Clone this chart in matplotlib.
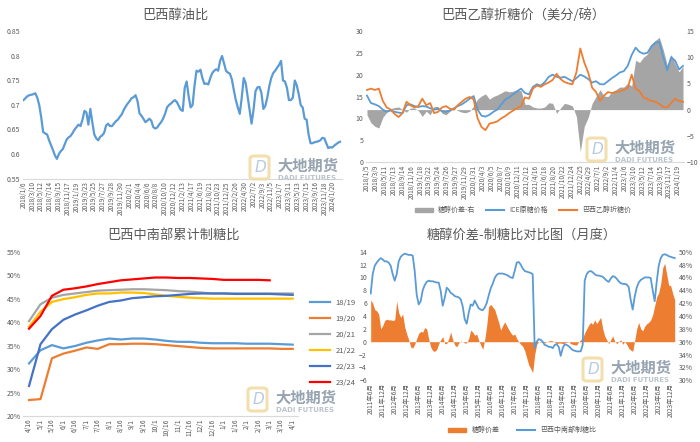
import matplotlib
matplotlib.use('Agg')
import matplotlib.pyplot as plt
from matplotlib.patches import FancyBboxPatch, Patch
from matplotlib.lines import Line2D
import numpy as np
import pandas as pd

plt.rcParams['font.family'] = ['Noto Sans CJK SC', 'DejaVu Sans']

W, H = 700, 442
TXT = '#595959'
BLUE = '#5B9BD5'
ORANGE = '#ED7D31'
GRAY = '#A5A5A5'
AXLINE = '#D9D9D9'

# ---- panel 1: 巴西醇油比 (biweekly readings from 2018/1/6)
oil_ratio = [0.710, 0.714, 0.718, 0.720, 0.721, 0.722, 0.724, 0.715, 0.700, 0.675,
             0.645, 0.642, 0.640, 0.628, 0.618, 0.608, 0.597, 0.590, 0.600, 0.606,
             0.610, 0.620, 0.630, 0.634, 0.637, 0.643, 0.650, 0.655, 0.660, 0.657,
             0.670, 0.688, 0.685, 0.660, 0.692, 0.665, 0.640, 0.632, 0.628, 0.635,
             0.638, 0.643, 0.658, 0.662, 0.657, 0.657, 0.662, 0.667, 0.670, 0.676,
             0.681, 0.690, 0.697, 0.703, 0.708, 0.714, 0.716, 0.720, 0.708, 0.683,
             0.678, 0.672, 0.665, 0.668, 0.672, 0.668, 0.655, 0.652, 0.654, 0.660,
             0.665, 0.672, 0.682, 0.695, 0.700, 0.703, 0.707, 0.710, 0.706, 0.698,
             0.690, 0.688, 0.735, 0.748, 0.718, 0.695, 0.700, 0.740, 0.770, 0.768,
             0.772, 0.755, 0.743, 0.744, 0.742, 0.755, 0.765, 0.770, 0.773, 0.770,
             0.790, 0.800, 0.785, 0.770, 0.766, 0.764, 0.752, 0.730, 0.710, 0.695,
             0.682, 0.715, 0.755, 0.745, 0.718, 0.690, 0.662, 0.690, 0.728, 0.736,
             0.737, 0.725, 0.692, 0.698, 0.715, 0.738, 0.755, 0.765, 0.770, 0.776,
             0.782, 0.790, 0.750, 0.748, 0.735, 0.710, 0.710, 0.715, 0.750, 0.740,
             0.722, 0.700, 0.695, 0.672, 0.670, 0.640, 0.622, 0.622, 0.624, 0.625,
             0.626, 0.628, 0.633, 0.632, 0.622, 0.612, 0.614, 0.613, 0.617, 0.620,
             0.623, 0.625]

# ---- panel 2: 巴西乙醇折糖价 (4-weekly readings from 2018/1/5)
ice_sugar = [15.2, 13.5, 13.2, 12.8, 12.0, 11.5, 11.8, 11.5, 11.3, 11.2,
             13.0, 13.2, 12.8, 12.6, 12.8, 12.7, 12.3, 12.0, 12.2, 11.6,
             11.5, 11.8, 12.3, 12.8, 13.2, 13.8, 14.5, 15.1, 12.0, 10.6,
             10.4, 10.8, 11.5, 12.0, 13.2, 14.3, 14.8, 15.5, 16.2, 16.8,
             15.8, 15.5, 17.2, 17.8, 17.5, 18.3, 19.5, 20.0, 19.5, 19.3,
             19.5, 19.0, 18.5, 19.2, 20.0, 19.6, 19.0, 18.2, 18.5, 17.8,
             17.8, 18.5, 19.2, 19.8, 20.5, 20.8, 22.0, 24.5, 26.2, 25.2,
             24.8, 25.0, 26.5, 27.3, 27.5, 24.0, 21.0, 24.0, 23.2, 21.2,
             22.0]
ethanol_eq = [16.5, 16.8, 16.5, 16.8, 14.0, 12.5, 12.0, 11.0, 10.3, 11.2,
              13.8, 13.0, 12.5, 12.8, 14.5, 13.0, 13.5, 11.2, 11.5, 12.5,
              12.8, 12.2, 12.0, 13.0, 13.8, 14.5, 14.9, 14.3, 10.0, 8.0,
              7.3, 8.8, 9.0, 9.3, 10.0, 10.5, 11.2, 11.8, 12.3, 12.8,
              14.8, 14.5, 16.8, 17.5, 17.2, 17.8, 18.2, 18.8, 20.2, 19.0,
              18.3, 18.0, 17.8, 20.5, 26.0, 22.8, 20.5, 17.0, 16.0, 14.0,
              15.2, 16.0, 15.8, 16.0, 16.2, 16.5, 17.0, 20.0, 16.8, 16.2,
              14.8, 14.4, 14.0, 13.8, 13.3, 12.6, 12.5, 13.5, 14.5, 14.0,
              13.8]
spread_w = [-1.0, -2.5, -3.2, -3.5, -1.5, -0.5, 0.2, 0.4, 0.5, 0.0,
            -0.5, 0.3, 0.3, -0.2, -1.3, -0.3, -1.0, 0.6, 0.6, -0.7,
            -1.0, -0.3, 0.2, -0.2, -0.5, -0.6, -0.3, 0.7, 2.0, 2.6,
            3.0, 2.0, 2.5, 2.8, 3.2, 3.6, 3.4, 3.5, 3.8, 3.6,
            1.0, 1.0, 0.5, 0.3, 0.3, 0.5, 1.3, 1.2, -0.7, 0.3,
            1.2, 1.0, 0.7, -1.3, -8.0, -3.2, -1.5, 1.2, 2.5, 3.8,
            2.6, 2.5, 3.4, 3.8, 4.3, 4.3, 5.0, 4.5, 9.4, 9.0,
            10.0, 10.6, 12.5, 13.2, 13.8, 11.4, 8.5, 10.5, 8.7, 7.2,
            8.2]

# ---- panel 3: 巴西中南部累计制糖比 (%)
half_months = ['4/16', '5/1', '5/16', '6/1', '6/16', '7/1', '7/16', '8/1', '8/16', '9/1',
               '9/16', '10/1', '10/16', '11/1', '11/16', '12/1', '12/16', '1/1', '1/16', '2/1',
               '2/16', '3/1', '3/16', '4/1']
mix_1819 = [31.2, 34.0, 35.1, 34.4, 34.9, 35.6, 36.1, 36.5, 36.3, 36.5, 36.5, 36.3,
            36.0, 35.8, 35.8, 35.6, 35.5, 35.5, 35.5, 35.4, 35.4, 35.4, 35.3, 35.2]
mix_1920 = [23.4, 23.6, 32.3, 33.3, 33.9, 34.6, 34.3, 35.3, 35.3, 35.4, 35.4, 35.3,
            35.1, 34.9, 34.7, 34.5, 34.4, 34.4, 34.4, 34.4, 34.4, 34.4, 34.3, 34.3]
mix_2021 = [40.2, 43.8, 45.2, 45.8, 46.1, 46.4, 46.7, 46.8, 46.9, 47.0, 47.0, 46.9,
            46.8, 46.6, 46.5, 46.3, 46.1, 46.1, 46.1, 46.1, 46.1, 46.1, 46.1, 46.1]
mix_2122 = [39.0, 42.2, 44.3, 44.9, 45.3, 45.8, 46.1, 46.1, 46.3, 46.3, 46.2, 45.9,
            45.6, 45.4, 45.2, 45.1, 45.0, 45.0, 45.0, 45.0, 45.0, 45.0, 45.0, 45.0]
mix_2223 = [26.4, 35.3, 38.5, 40.5, 41.6, 42.5, 43.5, 44.3, 44.6, 45.1, 45.3, 45.5,
            45.6, 45.8, 46.0, 46.1, 46.1, 46.1, 46.0, 46.0, 46.0, 46.0, 45.9, 45.8]
mix_2324 = [38.6, 41.3, 45.6, 46.9, 47.2, 47.6, 48.1, 48.5, 48.9, 49.1, 49.3, 49.5,
            49.5, 49.4, 49.4, 49.3, 49.2, 49.0, 49.0, 49.0, 49.0, 48.9]
season_names = ['18/19', '19/20', '20/21', '21/22', '22/23', '23/24']
season_colors = ['#5B9BD5', '#ED7D31', '#A5A5A5', '#FFC000', '#4472C4', '#FF0000']

# ---- panel 4: 糖醇价差-制糖比 (monthly from 2011/6)
spread_m = [6.5, 6.0, 5.0, 4.8, 4.3, 2.0, 2.5, 3.3, 3.5, 3.4,
            3.4, 3.3, 3.4, 6.3, 4.5, 3.8, 4.3, 2.3, 1.2, 0.3,
            -0.8, -1.0, -0.4, 0.5, 1.3, 1.6, 1.5, 2.2, 2.0, 0.4,
            -0.8, -1.4, -1.5, -1.2, -0.3, 0.3, 0.8, -0.3, -0.3, 0.5,
            1.5, 0.3, -0.5, -0.8, -0.2, 0.1, 0.0, -0.2, -0.2, 0.5,
            1.8, 1.5, 1.0, 1.2, 0.2, -0.5, -1.2, 0.3, 2.5, 5.5,
            5.8, 5.4, 5.0, 4.0, 3.0, 1.8, 2.5, 3.1, 2.5, 1.9,
            1.4, 1.0, 1.2, 0.5, 0.0, -0.4, -0.7, -1.4, -2.5, -3.6,
            -4.2, -4.8, -2.0, -0.4, 0.0, -0.1, 0.0, -0.2, 0.0, 0.1,
            0.2, 0.1, -0.1, -0.3, -0.2, -0.2, -0.3, -0.2, -0.1, 0.0,
            -0.3, -0.4, -0.5, -0.5, 0.0, 0.3, 0.6, 1.4, 2.0, 2.6,
            3.0, 2.7, 3.4, 2.8, 3.3, 3.8, 2.0, 0.9, 0.3, -0.3,
            0.3, 0.9, 0.1, -0.3, 0.0, 0.3, -0.4, 0.0, -0.4, -1.0,
            -1.3, -1.5, 0.2, 2.0, 3.0, 2.0, 1.7, 2.4, 2.8, 3.0,
            3.4, 4.2, 5.6, 7.0, 7.6, 9.0, 11.5, 12.2, 10.5, 8.8,
            8.7, 7.5, 6.5]
mix_m = [43.5, 46.5, 47.8, 48.3, 48.7, 49.0, 48.8, 48.5, 48.5, 48.3,
         47.8, 46.5, 45.5, 46.5, 48.5, 49.2, 49.5, 49.7, 49.6, 49.5,
         49.5, 49.4, 47.0, 43.3, 41.8, 42.3, 44.0, 44.8, 45.3, 45.5,
         45.4, 45.4, 45.3, 45.2, 45.2, 43.9, 41.6, 42.8, 44.4, 44.1,
         43.6, 43.4, 43.1, 43.0, 42.9, 42.6, 41.5, 39.5, 38.8, 40.5,
         41.8, 41.6, 42.4, 41.8, 41.2, 41.0, 40.9, 41.3, 42.0, 43.2,
         44.3, 45.0, 45.9, 46.4, 46.6, 46.6, 46.6, 46.5, 46.4, 46.2,
         46.0, 45.9, 47.0, 48.3, 48.4, 48.0, 47.4, 47.0, 46.9, 46.8,
         46.7, 46.5, 35.0, 36.0, 36.4, 36.3, 36.0, 35.5, 35.4, 35.2,
         35.2, 35.0, 35.5, 35.6, 35.2, 33.8, 35.0, 35.6, 35.5, 35.3,
         35.0, 34.7, 34.6, 34.5, 34.5, 34.5, 35.5, 45.5, 46.5, 46.9,
         47.0, 46.8, 46.5, 46.3, 46.3, 46.2, 46.1, 45.8, 45.5, 45.3,
         45.8, 46.2, 46.1, 45.8, 45.4, 45.1, 45.0, 45.0, 44.9, 44.5,
         42.5, 41.0, 43.0, 44.4, 45.2, 45.6, 45.8, 46.0, 46.0, 46.0,
         45.9, 44.0, 42.3, 45.3, 47.8, 49.0, 49.5, 49.6, 49.5, 49.3,
         49.2, 49.1, 49.0]


def rect(l, t, r, b):
    return [l / W, 1 - b / H, (r - l) / W, (b - t) / H]


def clean(ax, bottom=True):
    for s in ax.spines.values():
        s.set_visible(False)
    if bottom:
        ax.spines['bottom'].set_visible(True)
        ax.spines['bottom'].set_color(AXLINE)
    ax.tick_params(length=0, labelsize=5, labelcolor=TXT, pad=2)


def logo(x0, y0):
    # watermark: icon + company name
    fig.patches.append(FancyBboxPatch((x0 / W, 1 - (y0 + 24) / H), 19 / W, 23 / H,
                                      boxstyle='round,pad=0,rounding_size=0.006',
                                      transform=fig.transFigure, fill=False,
                                      ec='#F1DCA4', lw=2.2, alpha=0.9))
    fig.text((x0 + 10) / W, 1 - (y0 + 12) / H, 'D', fontsize=11, color='#B7CBE0',
             ha='center', va='center', style='italic', family='DejaVu Sans')
    fig.text((x0 + 27) / W, 1 - (y0 + 16) / H, '大地期货', fontsize=11, fontweight='bold',
             color='#96A3B0', ha='left', va='baseline')
    fig.text((x0 + 28) / W, 1 - (y0 + 25) / H, 'DADI FUTURES', fontsize=5, fontweight='bold',
             color='#BCC4CC', ha='left', va='baseline', family='DejaVu Sans')


fig = plt.figure(figsize=(7, 4.42), dpi=100)

# ---------------- panel 1
ax1 = fig.add_axes(rect(23, 31.5, 342, 178.5))
x1 = np.arange(len(oil_ratio)) * 2
ax1.plot(x1, oil_ratio, color=BLUE, lw=1.6)
ax1.set_ylim(0.55, 0.85)
ax1.set_xlim(-0.5, 324)
yt1 = [0.55, 0.6, 0.65, 0.7, 0.75, 0.8, 0.85]
ax1.set_yticks(yt1)
ax1.set_yticklabels([f'{v:g}' for v in yt1])
d1 = pd.date_range('2018-01-06', periods=36, freq='63D')
ax1.set_xticks(np.arange(36) * 9)
ax1.set_xticklabels([f'{d.year}/{d.month}/{d.day}' for d in d1], rotation=90)
clean(ax1)
ax1.tick_params(axis='x', labelsize=4.6)
fig.text(175 / W, 1 - 15 / H, '巴西醇油比', fontsize=9.5, color=TXT, ha='center', va='center')
logo(250, 155)

# ---------------- panel 2
ax2 = fig.add_axes(rect(366, 31, 684, 162))
ax2r = ax2.twinx()
x2 = np.arange(len(ice_sugar)) * 4
ax2r.fill_between(x2, 0, spread_w, color=GRAY, lw=0)
ax2.plot(x2, ice_sugar, color=BLUE, lw=1.3)
ax2.plot(x2, ethanol_eq, color=ORANGE, lw=1.3)
ax2.set_zorder(ax2r.get_zorder() + 1)
ax2.patch.set_visible(False)
ax2.set_ylim(0, 30)
ax2r.set_ylim(-10, 15)
ax2.set_yticks(range(0, 31, 5))
ax2r.set_yticks(range(-10, 16, 5))
ax2.set_xlim(-1, 321)
d2 = pd.date_range('2018-01-05', periods=36, freq='63D')
ax2.set_xticks(np.arange(36) * 9)
ax2.set_xticklabels([f'{d.year}/{d.month}/{d.day}' for d in d2], rotation=90)
clean(ax2)
clean(ax2r, bottom=False)
ax2.tick_params(axis='x', labelsize=4.6)
fig.text(523 / W, 1 - 15 / H, '巴西乙醇折糖价（美分/磅）', fontsize=9.5, color=TXT,
         ha='center', va='center')
h2 = [Patch(color=GRAY), Line2D([], [], color=BLUE, lw=1.5), Line2D([], [], color=ORANGE, lw=1.5)]
fig.legend(h2, ['糖醇价差-右', 'ICE原糖价格', '巴西乙醇折糖价'], loc='center',
           bbox_to_anchor=(523 / W, 1 - 210 / H), ncol=3, frameon=False, fontsize=5,
           labelcolor=TXT, handlelength=2.6, handleheight=0.5, columnspacing=1.5)
logo(587, 137)

# ---------------- panel 3
ax3 = fig.add_axes(rect(23.3, 251.7, 298.4, 416))
seasons = [mix_1819, mix_1920, mix_2021, mix_2122, mix_2223, mix_2324]
for vals, name, c in zip(seasons, season_names, season_colors):
    ax3.plot(np.arange(len(vals)), vals, color=c, lw=1.6, label=name)
ax3.set_ylim(20, 55)
ax3.set_xlim(-0.5, 23.5)
ax3.set_yticks(range(20, 56, 5))
ax3.set_yticklabels([f'{v}%' for v in range(20, 56, 5)])
ax3.set_xticks(range(len(half_months)))
ax3.set_xticklabels(half_months, rotation=90)
clean(ax3)
ax3.tick_params(axis='x', labelsize=4.8)
ax3.legend(loc='center left', bbox_to_anchor=(303 / W, 1 - 343 / H),
           bbox_transform=fig.transFigure, frameon=False, fontsize=5.5, labelcolor=TXT,
           handlelength=2.6, labelspacing=1.05)
fig.text(174 / W, 1 - 235 / H, '巴西中南部累计制糖比', fontsize=9.5, color=TXT,
         ha='center', va='center')
logo(248, 387)

# ---------------- panel 4
ax4 = fig.add_axes(rect(369.7, 251.7, 675.7, 380.3))
ax4r = ax4.twinx()
x4 = np.arange(len(spread_m))
ax4.fill_between(x4, 0, spread_m, color=ORANGE, lw=0)
ax4r.plot(x4, mix_m, color=BLUE, lw=1.3)
ax4.set_ylim(-6, 14)
ax4r.set_ylim(30, 50)
ax4.set_yticks(range(-6, 15, 2))
ax4r.set_yticks(range(30, 51, 2))
ax4r.set_yticklabels([f'{v}%' for v in range(30, 51, 2)])
ax4.set_xlim(-0.5, len(spread_m) - 0.5)
months = pd.period_range('2011-06', periods=len(spread_m), freq='M')
ax4.set_xticks(x4[::6])
ax4.set_xticklabels([f'{p.year}年{p.month}月' for p in months[::6]], rotation=90)
clean(ax4, bottom=False)
clean(ax4r, bottom=False)
ax4.tick_params(axis='x', labelsize=4.6)
fig.text(522 / W, 1 - 235 / H, '糖醇价差-制糖比对比图（月度）', fontsize=9.5, color=TXT,
         ha='center', va='center')
h4 = [Patch(color=ORANGE), Line2D([], [], color=BLUE, lw=1.5)]
fig.legend(h4, ['糖醇价差', '巴西中南部制糖比'], loc='center',
           bbox_to_anchor=(522 / W, 1 - 430 / H), ncol=2, frameon=False, fontsize=5,
           labelcolor=TXT, handlelength=2.6, handleheight=0.5, columnspacing=2.5)
logo(583, 357)

fig.savefig('out.png', dpi=100)
